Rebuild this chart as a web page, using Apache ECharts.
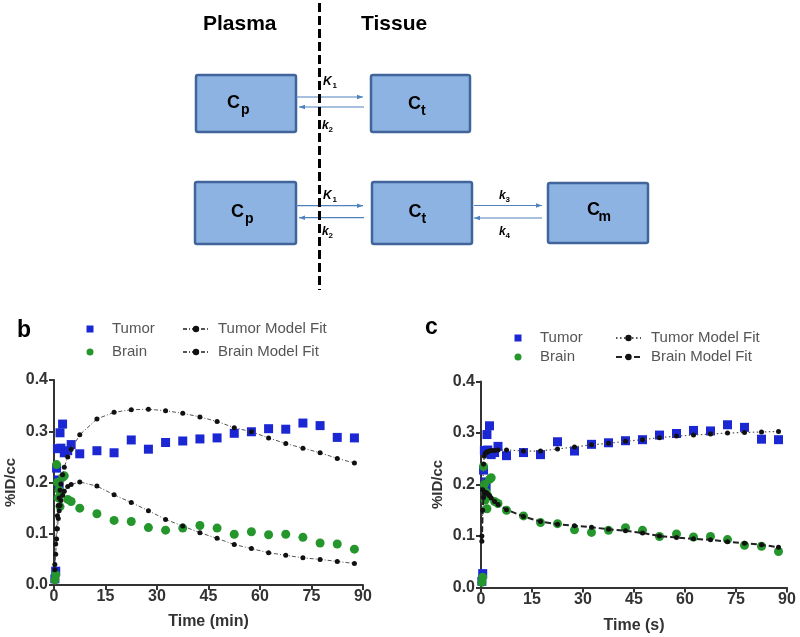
<!DOCTYPE html>
<html>
<head>
<meta charset="utf-8">
<script src="https://cdn.jsdelivr.net/npm/echarts@6/dist/echarts.min.js"></script>
<style>
html,body{margin:0;padding:0;background:#fff;}
#chart{width:800px;height:637px;}
</style>
</head>
<body>
<div id="chart"></div>
<script>
// ---- Data ----
const times = [0.25,0.5,0.75,1,1.25,1.5,1.75,2,2.5,3,4,5,7.5,12.5,17.5,22.5,27.5,32.5,37.5,42.5,47.5,52.5,57.5,62.5,67.5,72.5,77.5,82.5,87.5];
const tumor = [0.012,0.027,0.228,0.266,0.205,0.196,0.297,0.267,0.314,0.258,0.262,0.274,0.256,0.262,0.258,0.283,0.265,0.278,0.281,0.285,0.287,0.296,0.299,0.305,0.304,0.316,0.311,0.288,0.287];
const brain = [0.010,0.020,0.235,0.200,0.170,0.185,0.153,0.178,0.210,0.213,0.167,0.163,0.150,0.139,0.126,0.124,0.112,0.107,0.111,0.116,0.111,0.099,0.104,0.098,0.099,0.093,0.082,0.080,0.070];
const tumorFitB = [0.040,0.080,0.110,0.135,0.155,0.170,0.185,0.197,0.215,0.230,0.250,0.265,0.293,0.324,0.337,0.342,0.343,0.340,0.335,0.328,0.319,0.307,0.299,0.287,0.276,0.267,0.258,0.247,0.238];
const brainFitB = [0.030,0.060,0.090,0.110,0.130,0.145,0.155,0.165,0.175,0.183,0.192,0.196,0.201,0.193,0.176,0.161,0.145,0.128,0.115,0.102,0.091,0.079,0.071,0.063,0.058,0.053,0.050,0.046,0.042];
const tumorFitC = [0.100,0.190,0.240,0.255,0.260,0.262,0.263,0.264,0.265,0.266,0.266,0.267,0.267,0.265,0.265,0.269,0.273,0.277,0.280,0.284,0.287,0.291,0.294,0.296,0.298,0.300,0.301,0.302,0.303];
const brainFitC = [0.090,0.150,0.175,0.183,0.185,0.184,0.183,0.181,0.178,0.174,0.167,0.161,0.151,0.138,0.128,0.123,0.120,0.117,0.113,0.110,0.106,0.100,0.097,0.0945,0.0925,0.089,0.086,0.083,0.078];
const xTicks = [0,15,30,45,60,75,90];
const yTicks = [0.0,0.1,0.2,0.3,0.4];
const seriesNames = ['Tumor','Brain','Tumor Model Fit','Brain Model Fit'];
const xNames = ['Time (min)','Time (s)'];
const yName = '%ID/cc';
const panelLabels = ['b','c'];

// ---- Build ----
const FONT = '"Liberation Sans", Arial, sans-serif';
const BLUE = '#1C27D4', GREEN = '#24962C';
const pairs = ys => times.map((t,i) => [t, ys[i]]);

const chart = echarts.init(document.getElementById('chart'), null, {renderer:'canvas'});

function xAxisCfg(gi, name, gap){
  return {
    type:'value', gridIndex:gi, min:xTicks[0], max:xTicks[xTicks.length-1], interval:15,
    name:name, nameLocation:'middle', nameGap:gap,
    nameTextStyle:{fontFamily:FONT, fontWeight:'bold', fontSize:16, color:'#333'},
    axisLine:{lineStyle:{color:'#333', width:2}},
    axisTick:{show:true, length:5, lineStyle:{color:'#333', width:2}},
    axisLabel:{fontFamily:FONT, fontWeight:'bold', fontSize:16, color:'#333', margin:4},
    splitLine:{show:false}
  };
}
function yAxisCfg(gi){
  return {
    type:'value', gridIndex:gi, min:yTicks[0], max:yTicks[yTicks.length-1], interval:0.1,
    name:yName, nameLocation:'middle', nameGap:36, nameRotate:90,
    nameTextStyle:{fontFamily:FONT, fontWeight:'bold', fontSize:15, color:'#333'},
    axisLine:{show:true, lineStyle:{color:'#333', width:2}},
    axisTick:{show:true, length:5, lineStyle:{color:'#333', width:2}},
    axisLabel:{fontFamily:FONT, fontWeight:'bold', fontSize:16, color:'#333', margin:6,
      formatter: v => v.toFixed(1)},
    splitLine:{show:false}
  };
}

const fitLineB = {color:'#555', width:1, type:[4,2,1,2]};
function makeSeries(gi, suffix, tFit, bFit, tLine, bLine){
  return [
    {type:'scatter', name:seriesNames[0]+suffix, xAxisIndex:gi, yAxisIndex:gi, symbol:'rect', symbolSize:9,
      itemStyle:{color:BLUE, opacity:1}, data:pairs(tumor), z:2},
    {type:'scatter', name:seriesNames[1]+suffix, xAxisIndex:gi, yAxisIndex:gi, symbol:'circle', symbolSize:9,
      itemStyle:{color:GREEN, opacity:1}, data:pairs(brain), z:2},
    {type:'line', name:seriesNames[2]+suffix, xAxisIndex:gi, yAxisIndex:gi, symbol:'circle', symbolSize:5,
      showAllSymbol:true, itemStyle:{color:'#111'}, lineStyle:tLine, data:pairs(tFit), z:3},
    {type:'line', name:seriesNames[3]+suffix, xAxisIndex:gi, yAxisIndex:gi, symbol:'circle', symbolSize:5,
      showAllSymbol:true, itemStyle:{color:'#111'}, lineStyle:bLine, data:pairs(bFit), z:3}
  ];
}

function legendCfg(names, left, top, iw, ih, gap, pad){
  return {
    data:names, orient:'vertical', left:left, top:top, itemWidth:iw, itemHeight:ih, itemGap:gap,
    padding:0, selectedMode:false,
    formatter: n => n.split('|')[0],
    textStyle:{fontFamily:FONT, fontSize:15, color:'#555', lineHeight:16, padding:[0,0,0,pad]}
  };
}

// ---- Diagram (graphic elements) ----
const BOX_FILL = '#8DB3E2', BOX_STROKE = '#41659A', ARROW = '#4F81BD';
const g = [];
function box(x,y,w,h){
  g.push({type:'rect', shape:{x:x,y:y,width:w,height:h,r:2}, style:{fill:BOX_FILL, stroke:BOX_STROKE, lineWidth:2.5}, z:10});
}
function txt(x,y,text,font,align){
  g.push({type:'text', x:x, y:y, style:{text:text, font:font, fill:'#000',
    align:align||'left', verticalAlign:'middle', textAlign:align||'left', textVerticalAlign:'middle'}, z:12});
}
function arrow(x1,x2,y){
  g.push({type:'line', shape:{x1:x1,y1:y,x2:x2,y2:y}, style:{stroke:ARROW, lineWidth:1.2}, z:11});
  const d = x2 > x1 ? -6 : 6;
  g.push({type:'polygon', shape:{points:[[x2,y],[x2+d,y-2.3],[x2+d,y+2.3]]}, style:{fill:ARROW}, z:11});
}
function conc(cx, cy, sub, subX){
  txt(cx, cy, 'C', 'bold 18px '+FONT);
  txt(subX, cy+7, sub, 'bold 14px '+FONT);
}
function kLabel(x, y, k, n){
  txt(x, y, k, 'italic bold 12px '+FONT);
  txt(x+(k==='K'?9.5:6.5), y+3.5, n, 'bold 8px '+FONT);
}
txt(203, 24, 'Plasma', 'bold 21px '+FONT);
txt(361, 24, 'Tissue', 'bold 21px '+FONT);
box(196,75,100,57); box(371,75,99,57);
box(195,182,101,62); box(372,182,100,62); box(548,183,100,60);
arrow(296,363,97); arrow(364,299,107);
arrow(296,363,205.7); arrow(364,299,217.7);
arrow(474,542,205.5); arrow(542,474,218);
conc(227,103.5,'p',241); conc(408,104,'t',421);
conc(231,212.5,'p',245); conc(408.5,212.5,'t',421.5); conc(587,210.5,'m',598.5);
g.push({type:'line', shape:{x1:319.5,y1:3,x2:319.5,y2:290}, style:{stroke:'#000', lineWidth:3, lineDash:[9,4]}, z:13});
kLabel(323,82,'K','1'); kLabel(322,126,'k','2');
kLabel(323,196,'K','1'); kLabel(322,232,'k','2');
kLabel(499,196,'k','3'); kLabel(499,232,'k','4');
txt(17, 331, panelLabels[0], 'bold 23px '+FONT);
txt(425, 328, panelLabels[1], 'bold 23px '+FONT);

const option = {
  animation:false,
  backgroundColor:'#fff',
  grid:[
    {left:54, top:380, width:309, height:205, containLabel:false},
    {left:481, top:381.5, width:306, height:206, containLabel:false}
  ],
  xAxis:[xAxisCfg(0, xNames[0], 29), xAxisCfg(1, xNames[1], 30)],
  yAxis:[yAxisCfg(0), yAxisCfg(1)],
  legend:[
    legendCfg([{name:'Tumor',icon:'rect'},{name:'Brain',icon:'circle'}], 86.5, 321, 7, 7, 7, 13.5),
    legendCfg(['Tumor Model Fit','Brain Model Fit'], 182, 321, 26, 8, 7, 4),
    legendCfg([{name:'Tumor|c',icon:'rect'},{name:'Brain|c',icon:'circle'}], 514.5, 330, 7, 7, 3, 13.5),
    legendCfg(['Tumor Model Fit|c','Brain Model Fit|c'], 615, 330, 25, 8, 3, 5)
  ],
  series:[
    ...makeSeries(0, '', tumorFitB, brainFitB, fitLineB, fitLineB),
    ...makeSeries(1, '|c', tumorFitC, brainFitC, {color:'#555', width:1.2, type:[1.5,2.5]}, {color:'#222', width:2, type:[6,3]})
  ],
  graphic:g
};
chart.setOption(option);
</script>
</body>
</html>
